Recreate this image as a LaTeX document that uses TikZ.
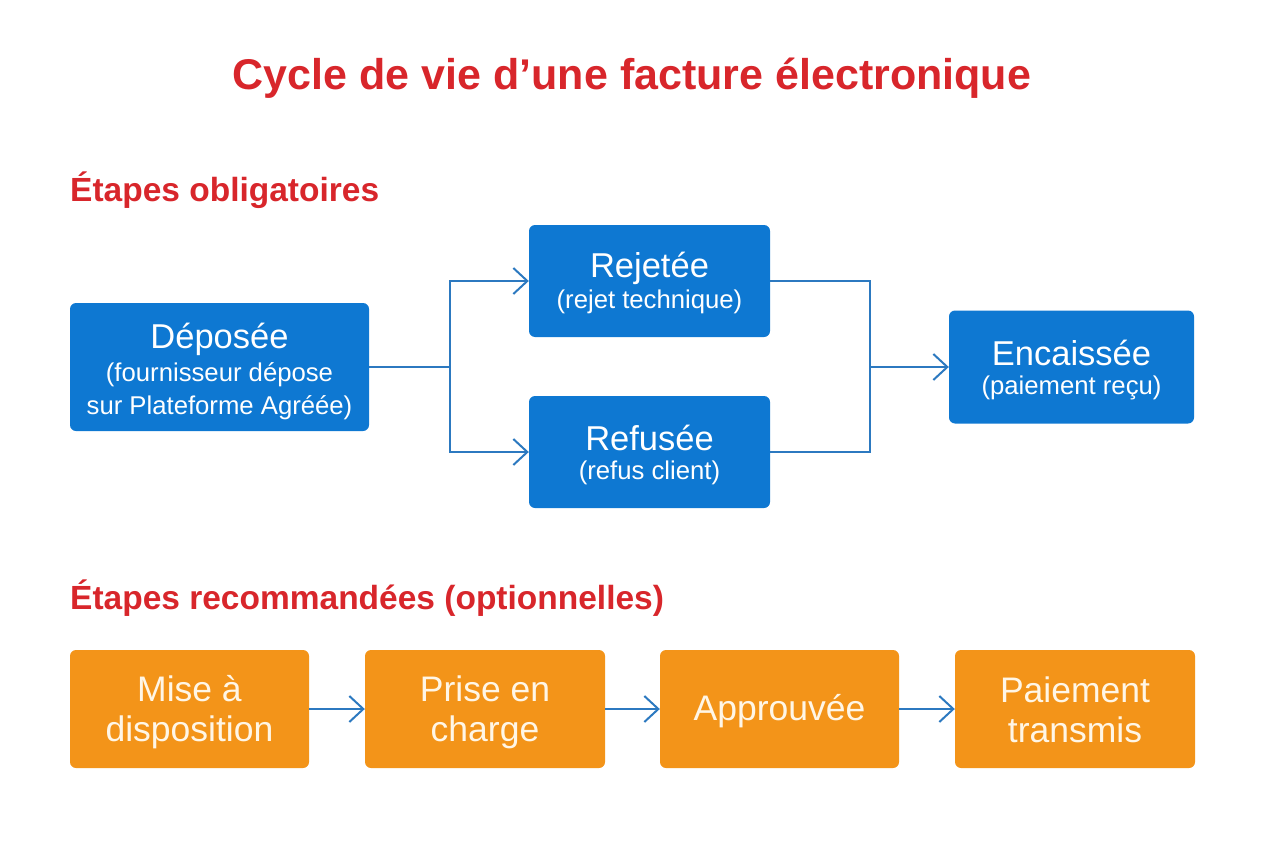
\documentclass[tikz,border=0pt]{standalone}
\usepackage{fontspec}
\setmainfont{Liberation Sans}
\usetikzlibrary{arrows.meta,calc}
\definecolor{boxblue}{HTML}{0E78D2}
\definecolor{linkblue}{HTML}{2C79C0}
\definecolor{boxorange}{HTML}{F39419}
\definecolor{titlered}{HTML}{D8262B}
\definecolor{cream}{HTML}{FFF6E6}
\begin{document}
\begin{tikzpicture}[x=1pt,y=-1pt,
  bluebox/.style={fill=boxblue,rounded corners=6pt,inner sep=0pt},
  orbox/.style={fill=boxorange,rounded corners=6pt,inner sep=0pt,text=cream,align=center,font=\fontsize{35.5}{40}\selectfont},
  maintxt/.style={text=white,inner sep=0pt,font=\fontsize{34.5}{38}\selectfont},
  subtxt/.style={text=white,inner sep=0pt,align=center,font=\fontsize{25.7}{33}\selectfont},
  link/.style={draw=linkblue,line width=2pt},
  arr/.style={link,-{Straight Barb[length=14pt,width=26pt,line width=2pt]}},
  heading/.style={text=titlered,font=\bfseries\fontsize{33.5}{38}\selectfont,anchor=west,inner sep=0pt}
]
\useasboundingbox (0,0) rectangle (1264,848);
\node[text=titlered,font=\bfseries\fontsize{43}{48}\selectfont,inner sep=0pt] (title) at (632,78) {Cycle de vie d’une facture électronique};
\node[heading] (h1) at (70,190) {Étapes obligatoires};
\node[heading] (h2) at (70,598) {Étapes recommandées (optionnelles)};

\node[bluebox,minimum width=299pt,minimum height=128pt] (dep) at (219.5,367) {};
\node[maintxt] (depa) at (219.5,339) {Déposée};
\node[subtxt] (depb) at (219.5,391) {(fournisseur dépose\\sur Plateforme Agréée)};

\node[bluebox,minimum width=241pt,minimum height=112pt] (rej) at (649.5,281) {};
\node[maintxt] (reja) at (649.5,268) {Rejetée};
\node[subtxt] (rejb) at (649.5,302) {(rejet technique)};

\node[bluebox,minimum width=241pt,minimum height=112pt] (ref) at (649.5,452) {};
\node[maintxt] (refa) at (649.5,438) {Refusée};
\node[subtxt] (refb) at (649.5,473) {(refus client)};

\node[bluebox,minimum width=245pt,minimum height=113pt] (enc) at (1071.5,367) {};
\node[maintxt] (enca) at (1071.5,353) {Encaissée};
\node[subtxt] (encb) at (1071.5,388) {(paiement reçu)};

\coordinate (split) at (450,367);
\coordinate (join) at (870,367);
\draw[link] (dep.east) -- (split);
\draw[arr] (split) |- (rej.west);
\draw[arr] (split) |- (ref.west);
\draw[link] (rej.east) -| (join);
\draw[link] (ref.east) -| (join);
\draw[arr] (join) -- (enc.west);

\node[orbox,minimum width=239pt,minimum height=118pt] (o1) at (189.5,709) {};
\node[orbox] (o1t) at (189.5,712) {Mise à\\disposition};
\node[orbox,minimum width=240pt,minimum height=118pt] (o2) at (485,709) {};
\node[orbox] (o2t) at (485,712) {Prise en\\charge};
\node[orbox,minimum width=239pt,minimum height=118pt] (o3) at (779.5,709) {};
\node[orbox] (o3t) at (779.5,711) {Approuvée};
\node[orbox,minimum width=240pt,minimum height=118pt] (o4) at (1075,709) {};
\node[orbox] (o4t) at (1075,710) {Paiement\\transmis};
\draw[arr] (o1) -- (o2);
\draw[arr] (o2) -- (o3);
\draw[arr] (o3) -- (o4);
\end{tikzpicture}
\end{document}
